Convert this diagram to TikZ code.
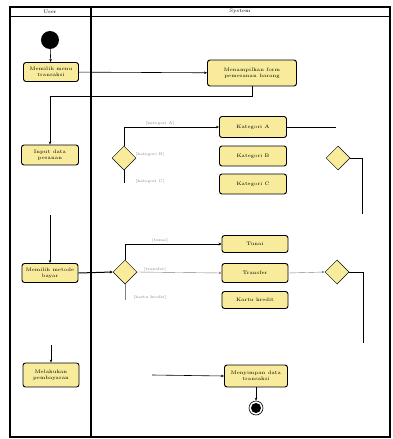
\documentclass[tikz,border=0pt]{standalone}
\usetikzlibrary{shapes.geometric,arrows.meta}
\definecolor{actfill}{HTML}{F8EC9C}
\tikzset{
  act/.style={draw, rounded corners=2.5pt, fill=actfill, line width=0.9pt, align=center,
    font=\fontsize{5}{6}\selectfont, inner sep=1pt},
  dec/.style={draw, diamond, aspect=1, fill=actfill, line width=0.5pt, minimum size=24pt, inner sep=0pt},
  guard/.style={font=\fontsize{4}{5}\selectfont, text=gray},
  flow/.style={line width=0.6pt, -{Stealth[length=3pt,width=2.5pt]}},
  thinflow/.style={line width=0.4pt, draw=gray, -{Stealth[length=3pt,width=2.5pt]}},
  bare/.style={line width=0.6pt},
  thickflow/.style={line width=1pt, -{Stealth[length=3pt,width=3pt]}},
  hdr/.style={font=\fontsize{5}{6}\selectfont},
}
\begin{document}
\begin{tikzpicture}[x=1pt,y=-1pt]
\useasboundingbox (0,0) rectangle (393,439);
\draw[line width=1.2pt] (10,7) rectangle (390,437);
\draw[line width=0.6pt] (10,16) -- (390,16);
\draw[line width=1.4pt] (91,7) -- (91,437);
\node[hdr] (hu) at (50,11.5) {User};
\node[hdr] (hs) at (240,11.5) {System};

% nodes
\node[circle, fill=black, minimum size=18pt, inner sep=0pt] (start) at (50,40) {};
\node[act, minimum width=55pt, minimum height=19pt] (u1) at (51,72) {Memilih menu\\transaksi};
\node[act, minimum width=89pt, minimum height=26pt] (s1) at (252,73) {Menampilkan form\\pemesanan barang};
\node[act, minimum width=57pt, minimum height=20pt] (u2) at (50,155) {Input data\\pesanan};
\node[dec] (d1) at (124,158) {};
\node[act, minimum width=67pt, minimum height=21pt] (a1) at (253,127) {Kategori A};
\node[act, minimum width=67pt, minimum height=20pt] (b1) at (253,156) {Kategori B};
\node[act, minimum width=67pt, minimum height=20pt] (c1) at (253,184) {Kategori C};
\node[dec] (d2) at (338,158) {};

\node[act, minimum width=56pt, minimum height=19pt] (u3) at (50,273) {Memilih metode\\bayar};
\node[dec] (d3) at (125,272) {};
\node[act, minimum width=66pt, minimum height=17pt] (e1) at (255,244) {Tunai};
\node[act, minimum width=66pt, minimum height=19pt] (e2) at (255,273) {Transfer};
\node[act, minimum width=66pt, minimum height=17pt] (e3) at (255,300) {Kartu kredit};
\node[dec] (d4) at (337,272) {};

\node[act, minimum width=56pt, minimum height=24pt] (u4) at (51,375) {Melakukan\\pembayaran};
\node[act, minimum width=63pt, minimum height=22pt] (s2) at (256,376) {Menyimpan data\\transaksi};
\node[circle, draw, line width=0.6pt, minimum size=14pt, inner sep=0pt] (end) at (256,408) {};
\fill (end.center) circle (5pt);

% free ends
\coordinate (d1end) at (124,183);
\coordinate (a1end) at (336,127);
\coordinate (r1end) at (362,214);
\coordinate (u3top) at (50,215);
\coordinate (d3end) at (125,300);
\coordinate (r2end) at (363,343);
\coordinate (u4top) at (51,345);
\coordinate (s2in) at (152,375);

% connectors
\draw[flow] (start) -- (u1);
\draw[flow] (u1) -- (s1);
\draw[flow] (s1.south) -- ++(0,10) -| (u2.north);
\draw[flow] (d1.north) |- (a1.west);
\draw[bare] (d1.south) -- (d1end);
\draw[bare] (a1.east) -- (a1end);
\draw[bare] (d2.east) -| (r1end);

\draw[flow] (u3top) -- (u3.north);
\draw[thickflow] (u3.east) -- (d3.west);
\draw[thickflow] (d3.north) |- (e1.west);
\draw[thinflow] (d3.east) -- (e2.west);
\draw[bare, draw=gray] (d3.south) -- (d3end);
\draw[thinflow] (e2.east) -- (d4.west);
\draw[bare] (d4.east) -| (r2end);

\draw[flow] (u4top) -- (u4.north);
\draw[flow] (s2in) -- (s2.west);
\draw[flow] (s2.south) -- (end.north);

% guards
\node[guard] (g1) at (160,123) {[kategori A]};
\node[guard] (g2) at (150,154) {[kategori B]};
\node[guard] (g3) at (150,181) {[kategori C]};
\node[guard] (g4) at (160,240) {[tunai]};
\node[guard] (g5) at (155,269) {[transfer]};
\node[guard] (g6) at (150,297) {[kartu kredit]};
\end{tikzpicture}
\end{document}
